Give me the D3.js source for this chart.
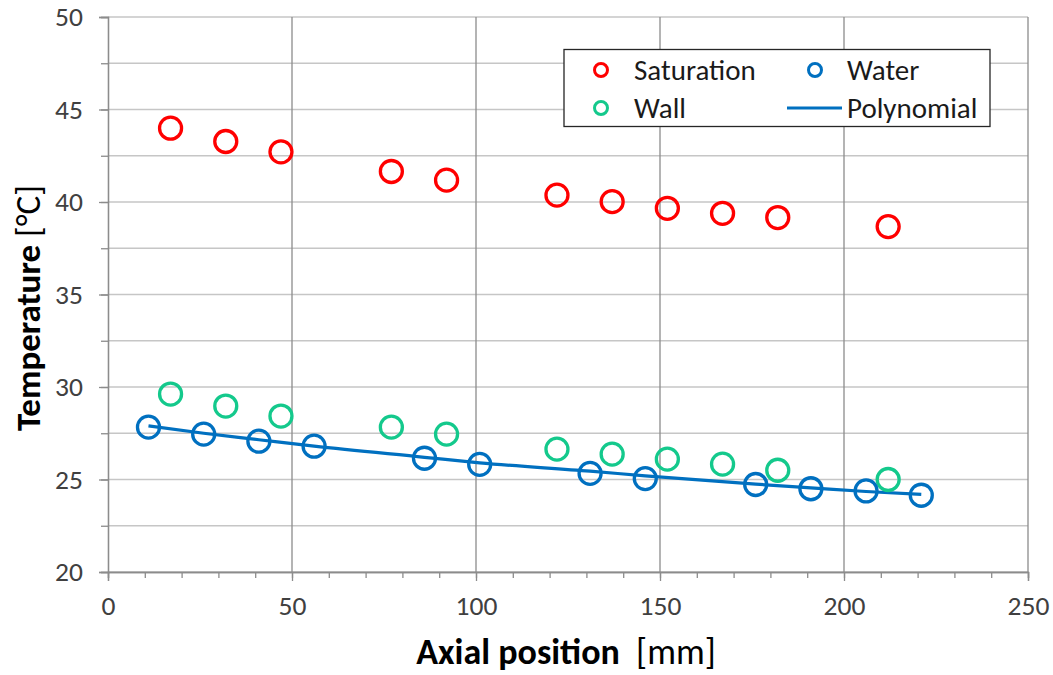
<!DOCTYPE html>
<html>
<head>
<meta charset="utf-8">
<script src="https://cdn.jsdelivr.net/npm/d3@7"></script>
<style>
  body { margin: 0; background: #fff; }
  text { font-family: Carlito, Calibri, Lato, sans-serif; }
</style>
</head>
<body>
<div id="vis"></div>
<script>
// Axial positions [mm] for each series
let satX = [17, 32, 47, 77, 92, 122, 137, 152, 167, 182, 212];
let satY = [43.99, 43.27, 42.71, 41.65, 41.18, 40.37, 40.02, 39.66, 39.39, 39.16, 38.67];

let wallX = [17, 32, 47, 77, 92, 122, 137, 152, 167, 182, 212];
let wallY = [29.62, 28.97, 28.43, 27.83, 27.45, 26.64, 26.37, 26.10, 25.83, 25.50, 25.00];

let waterX = [11, 26, 41, 56, 86, 101, 131, 146, 176, 191, 206, 221];
let waterY = [27.83, 27.45, 27.07, 26.80, 26.15, 25.82, 25.33, 25.05, 24.73, 24.50, 24.38, 24.15];

// polynomial fit
let polyX = [11, 26, 41, 56, 86, 101, 131, 146, 176, 191, 206, 221];
let polyY = [27.9, 27.5, 27.15, 26.8, 26.2, 25.9, 25.45, 25.2, 24.75, 24.55, 24.35, 24.2];

let xTicks = [0, 50, 100, 150, 200, 250];
let yTicks = [20, 25, 30, 35, 40, 45, 50];

let legendNames = ['Saturation', 'Water', 'Wall', 'Polynomial'];

let colors = {
    sat: '#ff0000',
    water: '#0070c0',
    wall: '#14c98c',
};

let W = 1053, H = 675;
let margin = { left: 108, right: 25, top: 17, bottom: 103 };
let width = W - margin.left - margin.right;
let height = H - margin.top - margin.bottom;

let svg = d3.select('#vis').append('svg')
    .attr('width', W)
    .attr('height', H);

let xScale = d3.scaleLinear().domain([0, 250]).range([0, width]);
let yScale = d3.scaleLinear().domain([20, 50]).range([height, 0]);

let g = svg.append('g')
    .attr('transform', `translate(${margin.left}, ${margin.top})`);

// horizontal gridlines every 2.5
let hGrid = d3.range(20, 50.01, 2.5);
g.selectAll('.hgrid').data(hGrid).enter().append('line')
    .attr('x1', 0).attr('x2', width)
    .attr('y1', d => yScale(d)).attr('y2', d => yScale(d))
    .attr('stroke', '#c6c6c6').attr('stroke-width', 1.3);

// vertical gridlines every 50
g.selectAll('.vgrid').data(xTicks.slice(1)).enter().append('line')
    .attr('x1', d => xScale(d)).attr('x2', d => xScale(d))
    .attr('y1', 0).attr('y2', height)
    .attr('stroke', '#8c8c8c').attr('stroke-width', 1.3);

// axes
let xMinor = d3.axisBottom(xScale).tickValues(d3.range(0, 251, 10)).tickSize(6).tickFormat('');
let xMajor = d3.axisBottom(xScale).tickValues(xTicks).tickSize(9).tickPadding(14);
let yMinor = d3.axisLeft(yScale).tickValues(hGrid).tickSize(7).tickFormat('');
let yMajor = d3.axisLeft(yScale).tickValues(yTicks).tickSize(9).tickPadding(16);

let styleAxis = sel => {
    sel.select('.domain').attr('stroke', '#8c8c8c').attr('stroke-width', 1.3);
    sel.selectAll('.tick line').attr('stroke', '#8c8c8c').attr('stroke-width', 1.3);
    sel.selectAll('.tick text').attr('fill', '#404040').style('font-size', '27.5px');
};

g.append('g').attr('transform', `translate(0, ${height})`).call(xMinor).call(styleAxis);
g.append('g').attr('transform', `translate(0, ${height})`).call(xMajor).call(styleAxis);
g.append('g').call(yMinor).call(styleAxis);
g.append('g').call(yMajor).call(styleAxis);

// polynomial line
let polyData = polyX.map((x, i) => ({ x: x, y: polyY[i] }));
let line = d3.line().x(d => xScale(d.x)).y(d => yScale(d.y)).curve(d3.curveMonotoneX);
g.append('path').datum(polyData)
    .attr('d', line)
    .attr('fill', 'none')
    .attr('stroke', colors.water)
    .attr('stroke-width', 3.2);

let drawSeries = (xs, ys, color) => {
    let data = xs.map((x, i) => ({ x: x, y: ys[i] }));
    g.append('g').selectAll('circle').data(data).enter().append('circle')
        .attr('cx', d => xScale(d.x))
        .attr('cy', d => yScale(d.y))
        .attr('r', 11)
        .attr('fill', 'none')
        .attr('stroke', color)
        .attr('stroke-width', 3.3);
};

drawSeries(satX, satY, colors.sat);
drawSeries(wallX, wallY, colors.wall);
drawSeries(waterX, waterY, colors.water);

// legend
let lg = svg.append('g');
lg.append('rect')
    .attr('x', 564).attr('y', 49.5)
    .attr('width', 426).attr('height', 77)
    .attr('fill', '#fff')
    .attr('stroke', '#262626').attr('stroke-width', 1.3);

let legendItems = [
    { name: legendNames[0], type: 'circle', color: colors.sat, mx: 601, tx: 634, y: 70 },
    { name: legendNames[1], type: 'circle', color: colors.water, mx: 815, tx: 847, y: 70 },
    { name: legendNames[2], type: 'circle', color: colors.wall, mx: 601, tx: 634, y: 108 },
    { name: legendNames[3], type: 'line', color: colors.water, mx: 815, tx: 847, y: 108 },
];

legendItems.forEach(it => {
    if (it.type === 'circle') {
        lg.append('circle')
            .attr('cx', it.mx).attr('cy', it.y).attr('r', 6.5)
            .attr('fill', 'none').attr('stroke', it.color).attr('stroke-width', 3);
    } else {
        lg.append('line')
            .attr('x1', it.mx - 28).attr('x2', it.mx + 27)
            .attr('y1', it.y).attr('y2', it.y)
            .attr('stroke', it.color).attr('stroke-width', 3.2);
    }
    lg.append('text')
        .attr('x', it.tx).attr('y', it.y)
        .attr('dy', '0.33em')
        .attr('fill', '#1a1a1a')
        .style('font-size', '29px')
        .text(it.name);
});

// axis titles
let xTitle = svg.append('text')
    .attr('x', 566).attr('y', 664)
    .attr('text-anchor', 'middle')
    .attr('fill', '#000')
    .style('font-size', '36px');
xTitle.append('tspan').style('font-weight', 'bold').text('Axial position');
xTitle.append('tspan').text('\u00a0 [mm]');

let yTitle = svg.append('text')
    .attr('transform', 'translate(40, 308) rotate(-90)')
    .attr('text-anchor', 'middle')
    .attr('fill', '#000')
    .style('font-size', '35px');
yTitle.append('tspan').style('font-weight', 'bold').text('Temperature');
yTitle.append('tspan').text(' [\u00b0C]');
</script>
</body>
</html>
